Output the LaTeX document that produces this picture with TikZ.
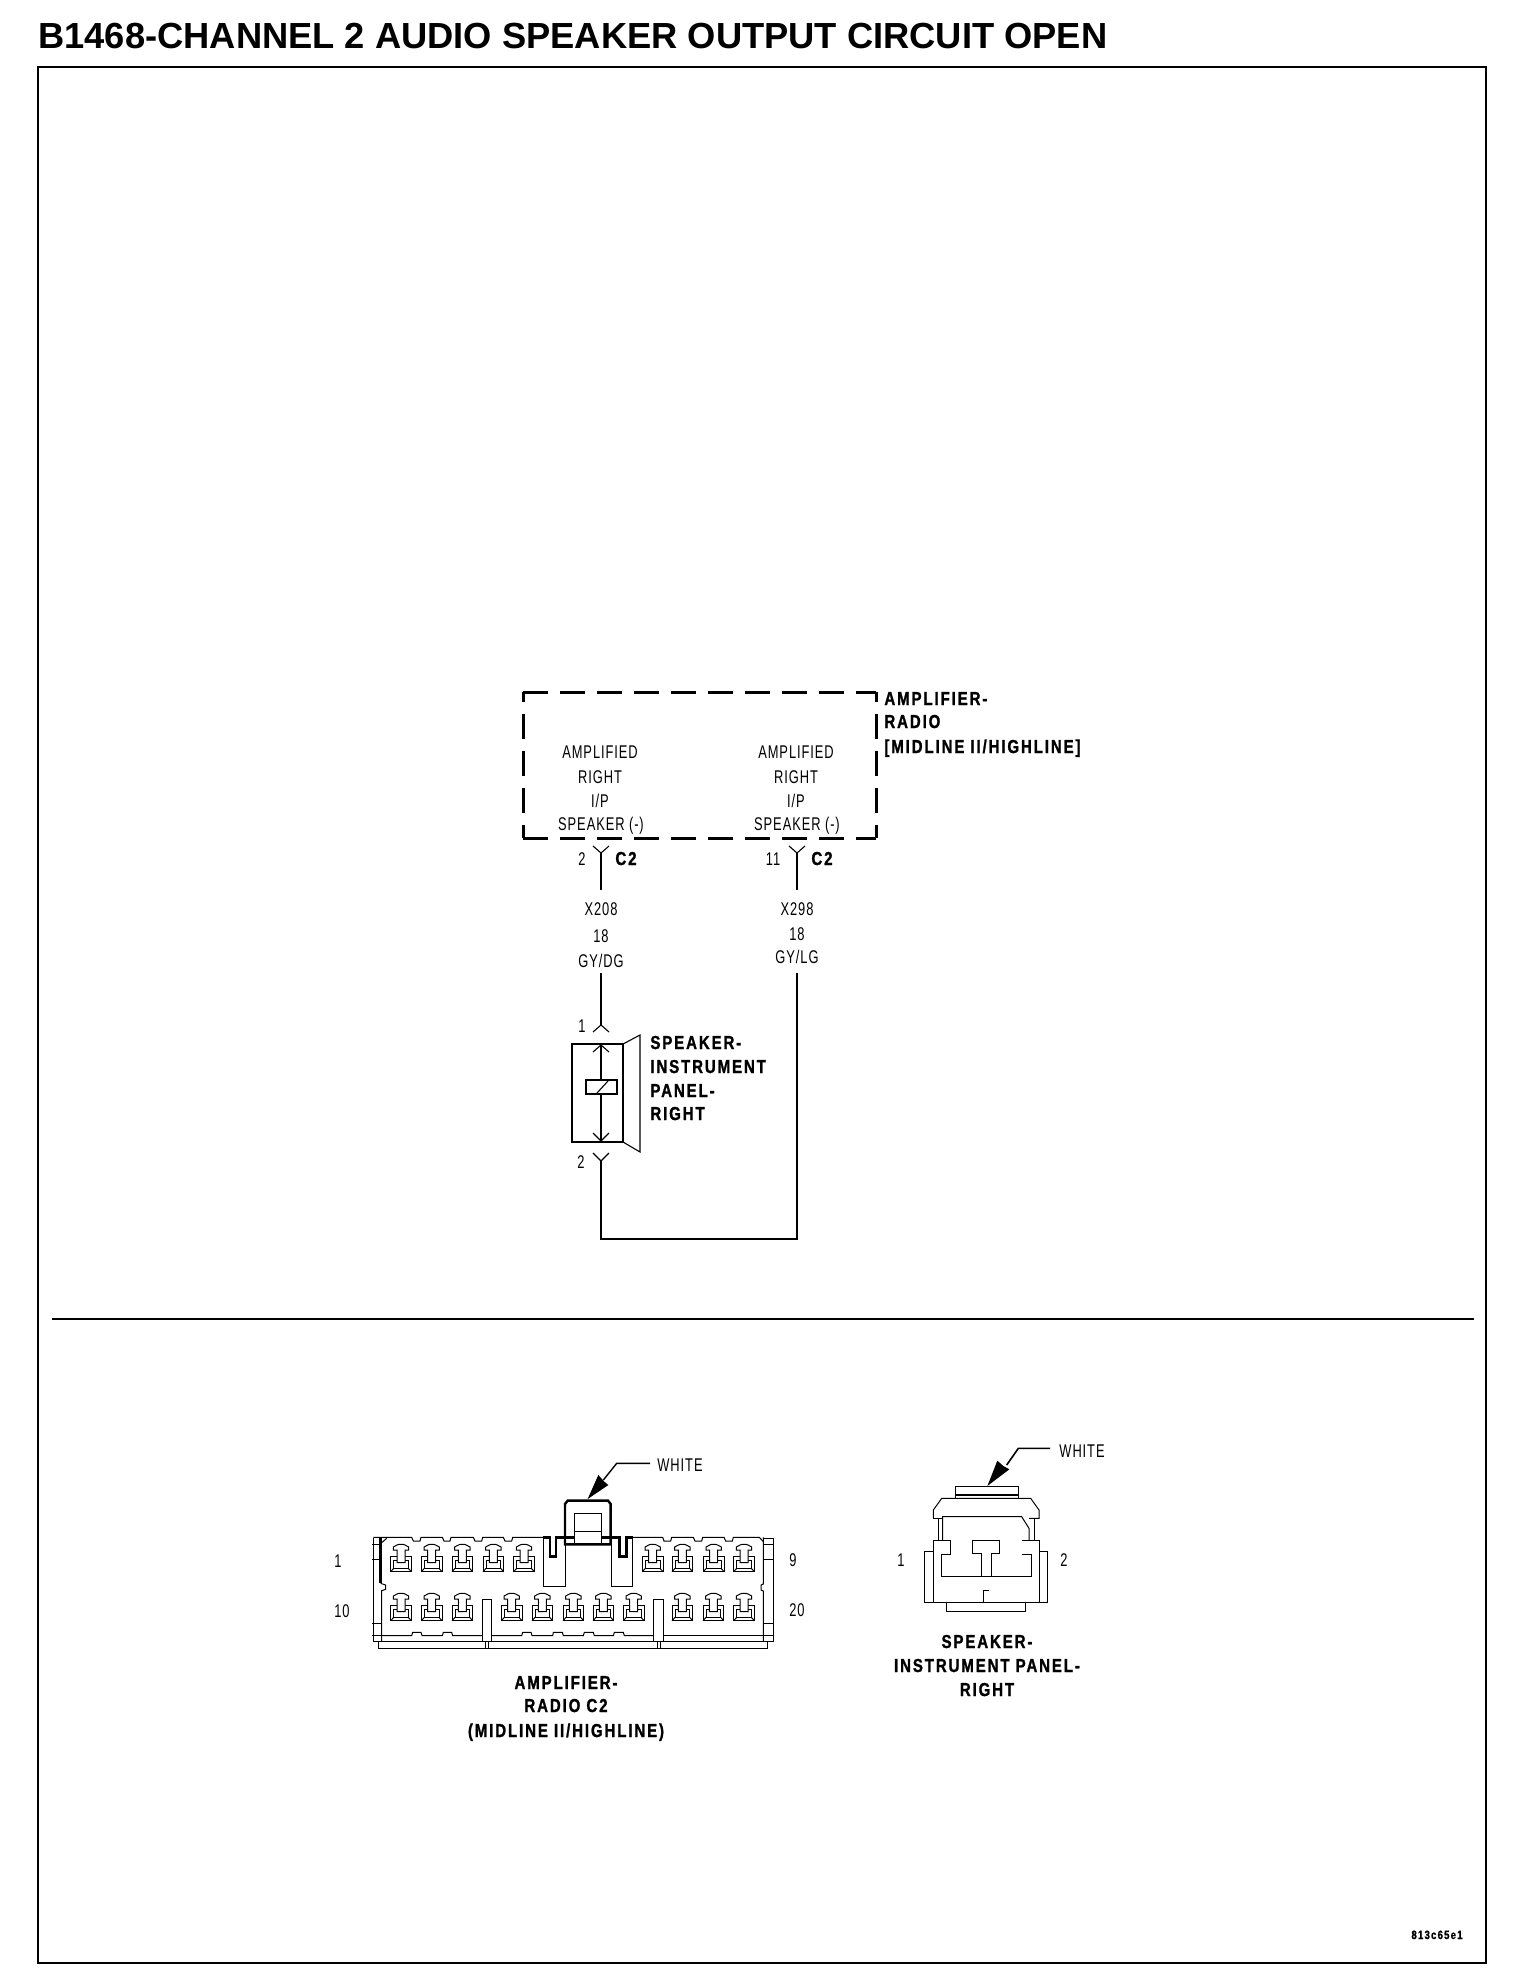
\documentclass[tikz,border=0pt]{standalone}
\usepackage{fontspec}
\setmainfont{Liberation Sans}
\newfontfamily\thinf[FakeStretch=0.7,LetterSpace=5]{Liberation Sans}
\newfontfamily\boldf[FakeStretch=0.8,LetterSpace=10,FakeBold=1.2]{Liberation Sans}
\tikzset{
  tl/.style={font=\thinf\fontsize{9.2}{10}\selectfont,inner sep=0pt,anchor=base},
  bl/.style={font=\boldf\bfseries\fontsize{9.4}{10}\selectfont,inner sep=0pt,anchor=base},
  bll/.style={bl,anchor=base west},
  wire/.style={line width=0.55pt,line join=miter},
  thinln/.style={line width=0.5pt,line join=miter},
  thickln/.style={line width=1.2pt,line join=miter},
  dashln/.style={line width=1.5pt,dash pattern=on 12.5pt off 6pt},
  dashlv/.style={line width=1.5pt,dash pattern=on 12.5pt off 6pt,dash phase=7.5pt},
  term/.pic={
    \draw[thinln] (-31,37) rectangle (31,82);
    \draw[thinln] (-22,47) -- (-22,72) -- (22,72) -- (22,47) -- cycle;
    \draw[thinln] (-31,82) -- (-22,72) (31,82) -- (22,72);
    \draw[thinln,fill=white] (-12,17) -- (-23,17) -- (-23,8) -- (-12,2) -- (-6,0) -- (6,0) -- (12,2) -- (23,8) -- (23,17) -- (12,17) -- (12,55) -- (-12,55) -- cycle;
  }
}
\begin{document}
\begin{tikzpicture}[x=0.5pt,y=-0.5pt]
\useasboundingbox (0,0) rectangle (1520,1984);
% title and frame
\node[inner sep=0pt,anchor=base west,font=\bfseries\fontsize{18.15}{20}\selectfont] (title) at (38,49) {B1468-CHANNEL 2 AUDIO SPEAKER OUTPUT CIRCUIT OPEN};
\draw[line width=1.3pt] (38,67) rectangle (1486,1963);
\draw[line width=0.9pt] (52,1319) -- (1474,1319);
% dashed module box
\coordinate (dtl) at (523,692); \coordinate (dtr) at (876,692);
\coordinate (dbl) at (523,838); \coordinate (dbr) at (876,838);
\draw[dashln] (dtl) -- (dtr);
\draw[dashln] (dbl) -- (dbr);
\draw[dashlv] (dtl) -- (dbl);
\draw[dashlv] (dtr) -- (dbr);
% module texts
\node[tl] (a1) at (600,758) {AMPLIFIED};
\node[tl] (a2) at (600,783) {RIGHT};
\node[tl] (a3) at (600,807) {I/P};
\node[tl] (a4) at (601,830) {SPEAKER (-)};
\node[tl] (b1) at (796,758) {AMPLIFIED};
\node[tl] (b2) at (796,783) {RIGHT};
\node[tl] (b3) at (796,807) {I/P};
\node[tl] (b4) at (797,830) {SPEAKER (-)};
\node[bll] (m1) at (884,705) {AMPLIFIER-};
\node[bll] (m2) at (884,728) {RADIO};
\node[bll] (m3) at (884,753) {[MIDLINE II/HIGHLINE]};
% connector pins at the module
\node[tl] (p2) at (582,865) {2};
\node[bl] (c1) at (626,865) {C2};
\node[tl] (p11) at (773,865) {11};
\node[bl] (c2) at (822,865) {C2};
% wire labels
\node[tl] (x1) at (601,915) {X208};
\node[tl] (g1) at (601,942) {18};
\node[tl] (k1) at (601,967) {GY/DG};
\node[tl] (x2) at (797,915) {X298};
\node[tl] (g2) at (797,940) {18};
\node[tl] (k2) at (797,963) {GY/LG};
% wires
\coordinate (v1a) at (601,853); \coordinate (v1b) at (601,890);
\coordinate (v2a) at (797,853); \coordinate (v2b) at (797,890);
\coordinate (w1a) at (601,973); \coordinate (w1b) at (601,1025);
\coordinate (w2a) at (797,973); \coordinate (w2b) at (797,1239);
\coordinate (w3a) at (601,1161); \coordinate (w3b) at (601,1239);
\draw[wire] (v1a) -- (v1b);
\draw[wire] (v2a) -- (v2b);
\draw[wire] (593,846) -- (v1a) -- (609,846);
\draw[wire] (789,846) -- (v2a) -- (805,846);
\draw[wire] (w1a) -- (w1b);
\draw[wire] (593,1032) -- (w1b) -- (609,1032);
\draw[wire] (w2a) -- (w2b) -- (w3b) -- (w3a);
\draw[wire] (593,1153) -- (w3a) -- (609,1153);
% speaker symbol
\node[tl] (s1) at (582,1032) {1};
\node[tl] (s2) at (581,1168) {2};
\draw[line width=1.1pt] (572,1044) rectangle (623,1142);
\draw[wire] (623,1044) -- (640,1035) -- (640,1152) -- (623,1142);
\draw[wire] (601,1045) -- (601,1141);
\draw[wire] (593,1052) -- (601,1045) -- (609,1052);
\draw[wire] (593,1133) -- (601,1141) -- (609,1133);
\draw[wire,fill=white] (586,1080) rectangle (617,1094);
\draw[wire] (597,1093) -- (608,1081);
\node[bll] (t1) at (650,1049) {SPEAKER-};
\node[bll] (t2) at (650,1073) {INSTRUMENT};
\node[bll] (t3) at (650,1097) {PANEL-};
\node[bll] (t4) at (650,1120) {RIGHT};
% pin numbers and labels, bottom half
\node[tl] (n1) at (338,1567) {1};
\node[tl] (n10) at (342,1617) {10};
\node[tl] (n9) at (793,1566) {9};
\node[tl] (n20) at (797,1616) {20};
\node[tl] (wh1) at (680,1471) {WHITE};
\node[bl] (q1) at (566,1689) {AMPLIFIER-};
\node[bl] (q2) at (566,1712) {RADIO C2};
\node[bl] (q3) at (566,1737) {(MIDLINE II/HIGHLINE)};
\node[tl] (n1b) at (901,1566) {1};
\node[tl] (n2b) at (1064,1566) {2};
\node[tl] (wh2) at (1082,1457) {WHITE};
\node[bl] (r1) at (987,1648) {SPEAKER-};
\node[bl] (r2) at (987,1672) {INSTRUMENT PANEL-};
\node[bl] (r3) at (987,1696) {RIGHT};
\node[bl,font=\boldf\bfseries\fontsize{6}{6}\selectfont] (cd) at (1437,1939) {813c65e1};
% amplifier connector, zoom units
\begin{scope}[shift={(320,1430)},x=0.16667pt,y=-0.16667pt]
\foreach \c in {243,335,427,520,612,998,1087,1181,1272} \pic at (\c,343) {term};
\foreach \c in {243,335,427,575,667,760,850,941,1087,1180,1272} \pic at (\c,490) {term};
% top edge
\draw[thinln] (160,322) -- (275,322) -- (280,333) -- (300,333) -- (303,322) -- (367,322) -- (372,333) -- (390,333) -- (393,322) -- (460,322) -- (465,333) -- (485,333) -- (488,322) -- (550,322) -- (555,333) -- (575,333) -- (578,322) -- (670,322);
\draw[thinln] (938,322) -- (1028,322) -- (1032,333) -- (1052,333) -- (1055,322) -- (1120,322) -- (1125,333) -- (1145,333) -- (1148,322) -- (1212,322) -- (1217,333) -- (1237,333) -- (1240,322) -- (1318,322) -- (1330,335);
\draw[thinln] (1330,325) -- (1360,325);
% left end
\draw[thinln] (160,325) -- (160,635);
\draw[thickln] (182,322) -- (182,460);
\draw[thinln] (182,460) -- (197,465) -- (197,478) -- (185,482) -- (185,635);
\draw[thinln] (183,340) -- (200,325);
\foreach \y in {343,388} \draw[thinln] (157,\y) -- (182,\y);
\foreach \y in {580,617} \draw[thinln] (157,\y) -- (185,\y);
% right end
\draw[thinln] (1360,325) -- (1360,635);
\draw[thinln] (1330,322) -- (1330,462) -- (1323,465) -- (1323,480) -- (1330,483) -- (1330,635);
\foreach \y in {343,388,580,617} \draw[thinln] (1330,\y) -- (1360,\y);
% bottom edge
\draw[thinln] (185,617) -- (275,617) -- (278,607) -- (303,607) -- (306,617) -- (367,617) -- (370,607) -- (395,607) -- (398,617) -- (487,617);
\draw[thinln] (515,617) -- (605,617) -- (608,607) -- (633,607) -- (636,617) -- (698,617) -- (700,607) -- (727,607) -- (730,617) -- (790,617) -- (793,607) -- (820,607) -- (823,617) -- (880,617) -- (883,607) -- (910,607) -- (913,617) -- (1000,617);
\draw[thinln] (1030,617) -- (1330,617);
\draw[thinln] (160,635) -- (1360,635);
\draw[thinln] (175,635) -- (175,655) -- (1342,655) -- (1342,635);
\foreach \x in {495,505,1012,1022} \draw[thinln] (\x,635) -- (\x,655);
\draw[thinln,fill=white] (487,507) rectangle (515,635);
\draw[thinln,fill=white] (1000,507) rectangle (1030,635);
% central key
\draw[thinln] (670,322) -- (670,470) -- (735,470) -- (735,343);
\draw[thinln] (938,322) -- (938,470) -- (875,470) -- (875,343);
\draw[thickln] (670,322) -- (690,322) -- (690,380) -- (708,380) -- (708,322) -- (735,322);
\draw[thickln] (872,322) -- (898,322) -- (898,380) -- (920,380) -- (920,322) -- (938,322);
\draw[thickln] (735,343) -- (735,222) -- (743,212) -- (864,212) -- (872,222) -- (872,343) -- cycle;
\draw[thinln] (763,250) rectangle (845,342);
\draw[thinln] (763,303) -- (845,303);
\draw[thickln] (763,322) -- (735,322) (845,322) -- (872,322);
% leader
\coordinate (la) at (990,100); \coordinate (lb) at (890,100); \coordinate (lc) at (850,150);
\draw[line width=0.7pt] (la) -- (lb) -- (lc);
\fill (803,207) -- (865,165) -- (853,155) -- (835,135) -- cycle;
\end{scope}
% speaker connector, zoom units
\begin{scope}[shift={(880,1430)},x=0.16667pt,y=-0.16667pt]
\draw[thinln] (225,170) rectangle (415,205);
\draw[thickln] (225,195) -- (415,195);
\draw[thinln] (160,265) -- (160,240) -- (185,205) -- (452,205) -- (477,240) -- (477,265) -- (447,265);
\draw[thinln] (160,265) -- (188,265);
\draw[thinln] (188,330) -- (188,260) -- (425,260) -- (447,295) -- (447,330);
\draw[thinln] (175,265) -- (175,332);
\draw[thinln] (463,265) -- (463,332);
\draw[thinln] (160,517) -- (160,332) -- (212,332) -- (212,373) -- (183,373) -- (183,438) -- (455,438) -- (455,373) -- (427,373);
\draw[thinln] (427,332) -- (477,332) -- (477,517);
\draw[thinln] (305,438) -- (305,370) -- (277,370) -- (277,332) -- (358,332) -- (358,370) -- (333,370) -- (333,438);
\draw[thinln] (160,363) -- (133,363) -- (133,517) -- (503,517) -- (503,363) -- (477,363);
\draw[thinln] (198,517) -- (198,545) -- (437,545) -- (437,517);
\draw[thinln] (310,517) -- (310,480) -- (327,480);
\coordinate (ma) at (510,55); \coordinate (mb) at (415,55); \coordinate (mc) at (380,105);
\draw[line width=0.8pt] (ma) -- (mb) -- (mc);
\fill (322,168) -- (388,118) -- (370,108) -- (352,92) -- cycle;
\end{scope}
\end{tikzpicture}
\end{document}
